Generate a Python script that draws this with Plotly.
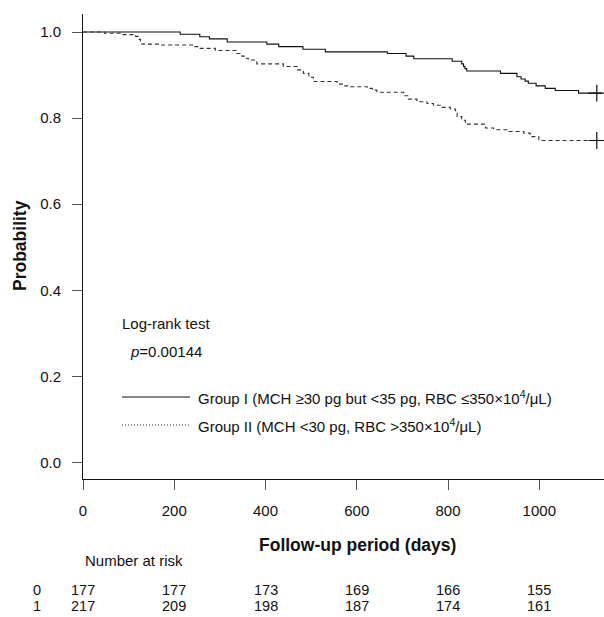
import plotly.graph_objects as go

# ---- data ----
g1_days = [0, 213, 256, 277, 316, 403, 429, 482, 531, 667, 708, 725, 809, 830, 834, 837, 841,
           915, 951, 960, 969, 976, 993, 1013, 1035, 1086, 1137]
g1_prob = [1.0, 0.9947, 0.989, 0.984, 0.977, 0.972, 0.966, 0.960, 0.954, 0.950, 0.944, 0.938, 0.932,
           0.926, 0.920, 0.915, 0.9095, 0.904, 0.896, 0.891, 0.886, 0.881, 0.875, 0.869, 0.864, 0.858, 0.858]
g2_days = [0, 47, 88, 115, 121, 126, 129, 165, 242, 255, 290, 337, 348, 355, 362, 381, 439, 470, 483,
           495, 505, 557, 570, 586, 623, 634, 644, 703, 713, 732, 754, 768, 783, 805, 816, 820, 830, 838,
           882, 900, 929, 966, 980, 999, 1137]
g2_prob = [1.0, 0.997, 0.994, 0.990, 0.983, 0.976, 0.972, 0.970, 0.966, 0.962, 0.957, 0.950, 0.944,
           0.939, 0.935, 0.926, 0.920, 0.912, 0.904, 0.895, 0.885, 0.879, 0.875, 0.873, 0.869, 0.865,
           0.860, 0.852, 0.844, 0.838, 0.834, 0.830, 0.825, 0.821, 0.817, 0.8035, 0.795, 0.786, 0.777,
           0.773, 0.769, 0.765, 0.757, 0.748, 0.748]
censor_day = [1126]
g1_censor = [0.858]
g2_censor = [0.748]

risk_times = [0, 200, 400, 600, 800, 1000]
risk_g0 = [177, 177, 173, 169, 166, 155]
risk_g1 = [217, 209, 198, 187, 174, 161]
risk_labels = ["0", "1"]

x_ticks = [0, 200, 400, 600, 800, 1000]
y_ticks = [0.0, 0.2, 0.4, 0.6, 0.8, 1.0]

FONT = "Liberation Sans, Arial, Helvetica, sans-serif"
TXT = 15
ROW = 14.5
W, H = 604, 617
ML, MR, MT, MB = 83, 0, 14, 138
PW, PH = W - ML - MR, H - MT - MB


def px(x):
    return (x - ML) / PW


def py(y):
    return (H - MB - y) / PH


fig = go.Figure()
fig.add_trace(go.Scatter(x=g1_days, y=g1_prob, mode="lines", line=dict(color="#111", width=1.1, shape="hv"),
                         showlegend=False, hoverinfo="skip"))
fig.add_trace(go.Scatter(x=g2_days, y=g2_prob, mode="lines",
                         line=dict(color="#333", width=1.1, shape="hv", dash="4px,3px"),
                         showlegend=False, hoverinfo="skip"))
for cy in (g1_censor, g2_censor):
    fig.add_trace(go.Scatter(x=censor_day, y=cy, mode="markers",
                             marker=dict(symbol="cross-thin-open", size=12, color="#111",
                                         line=dict(color="#111", width=1.2)),
                             showlegend=False, hoverinfo="skip"))

annotations = []
annotations.append(dict(xref="paper", yref="paper", x=px(120), y=py(323), text="Log-rank test",
                        showarrow=False, xanchor="left", yanchor="middle", font=dict(size=TXT)))
annotations.append(dict(xref="paper", yref="paper", x=px(128), y=py(352), text="<i>p</i>=0.00144",
                        showarrow=False, xanchor="left", yanchor="middle", font=dict(size=TXT)))
annotations.append(dict(xref="paper", yref="paper", x=px(196), y=py(397),
                        text="Group I (MCH \u226530 pg but <35 pg, RBC \u2264350\u00d710<sup>4</sup>/\u03bcL)",
                        showarrow=False, xanchor="left", yanchor="middle", font=dict(size=TXT)))
annotations.append(dict(xref="paper", yref="paper", x=px(196), y=py(425),
                        text="Group II (MCH <30 pg, RBC >350\u00d710<sup>4</sup>/\u03bcL)",
                        showarrow=False, xanchor="left", yanchor="middle", font=dict(size=TXT)))

annotations.append(dict(xref="paper", yref="paper", x=px(357), y=py(545), text="<b>Follow-up period (days)</b>",
                        showarrow=False, xanchor="center", yanchor="middle", font=dict(size=17.5)))
annotations.append(dict(xref="paper", yref="paper", x=px(20), y=py(246), text="<b>Probability</b>",
                        showarrow=False, xanchor="center", yanchor="middle", textangle=-90, font=dict(size=17.5)))

annotations.append(dict(xref="paper", yref="paper", x=px(83), y=py(560), text="Number at risk",
                        showarrow=False, xanchor="left", yanchor="middle", font=dict(size=TXT)))
for lab, row, ypix in zip(risk_labels, [risk_g0, risk_g1], [590, 606]):
    annotations.append(dict(xref="paper", yref="paper", x=px(37), y=py(ypix), text=lab,
                            showarrow=False, xanchor="center", yanchor="middle", font=dict(size=ROW),
                            borderpad=0))
    for t, n in zip(risk_times, row):
        annotations.append(dict(xref="x", yref="paper", x=t, y=py(ypix), text=str(n),
                                showarrow=False, xanchor="center", yanchor="middle", font=dict(size=ROW),
                                borderpad=0))

shapes = [
    dict(type="line", xref="paper", yref="paper", x0=px(122), x1=px(190), y0=py(397), y1=py(397),
         line=dict(color="#111", width=1.1)),
    dict(type="line", xref="paper", yref="paper", x0=px(122), x1=px(190), y0=py(425), y1=py(425),
         line=dict(color="#333", width=1.1, dash="1px,2px")),
]

fig.update_layout(
    width=W, height=H,
    margin=dict(l=ML, r=MR, t=MT, b=MB),
    plot_bgcolor="white", paper_bgcolor="white",
    font=dict(family=FONT, size=TXT, color="#111"),
    annotations=annotations, shapes=shapes,
    xaxis=dict(range=[0, PW / 0.4563], tickmode="array", tickvals=x_ticks,
               ticktext=[str(v) for v in x_ticks], showgrid=False, zeroline=False,
               showline=True, linecolor="#111", linewidth=1, ticks="outside", ticklen=10,
               tickcolor="#555", tickwidth=1, tickfont=dict(size=TXT), ticklabelstandoff=8),
    yaxis=dict(range=[-0.0385, -0.0385 + PH / 430.4], tickmode="array", tickvals=y_ticks,
               ticktext=["%.1f" % v for v in y_ticks], showgrid=False, zeroline=False,
               showline=True, linecolor="#111", linewidth=1, ticks="outside", ticklen=10,
               tickcolor="#555", tickwidth=1, tickfont=dict(size=TXT), ticklabelstandoff=8),
)

fig.write_html("out.html", config={"displayModeBar": False},
               post_script="document.body.style.margin='0';document.body.style.overflow='hidden';")
